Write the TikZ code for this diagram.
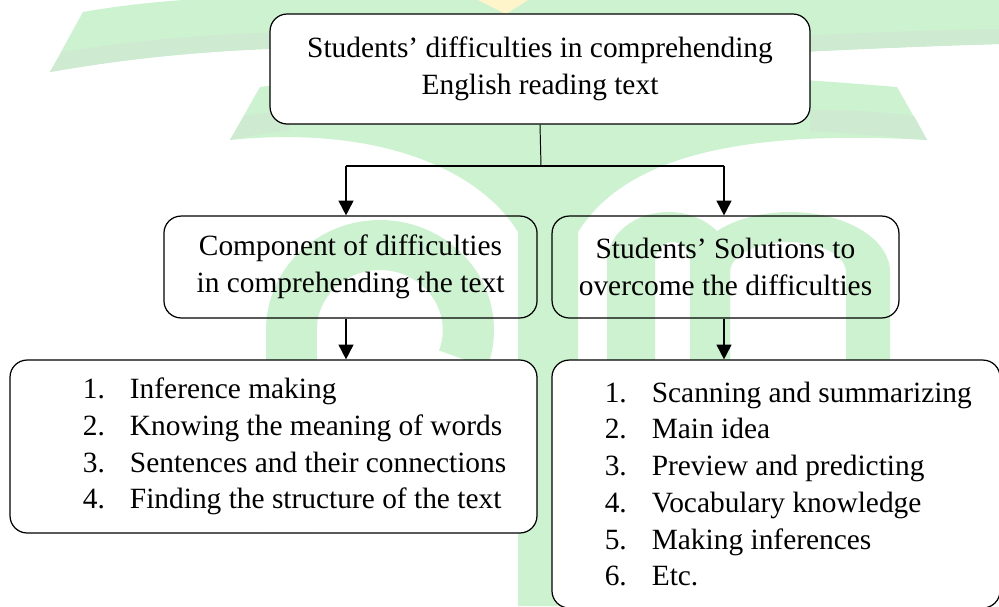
\documentclass[tikz,border=0pt]{standalone}
\usepackage{fontspec}
\setmainfont{Liberation Serif}
\usetikzlibrary{arrows.meta}
\definecolor{wmgreen}{RGB}{205,242,208}
\definecolor{wmshade}{RGB}{206,234,208}
\definecolor{wmyellow}{RGB}{255,245,202}
\tikzset{
	box/.style={draw=black, line width=0.5pt, rounded corners=7pt, align=center, inner sep=0pt, font=\fontsize{12}{15}\selectfont},
	listtext/.style={anchor=west, align=left, inner sep=0pt, font=\fontsize{12}{15}\selectfont},
	thinline/.style={line width=0.4pt},
	forkline/.style={line width=0.7pt},
	arrowline/.style={line width=0.7pt, -{Triangle[width=6pt,length=6pt]}},
}
\newcommand{\itm}[1]{\makebox[19.2pt][l]{#1}}

\begin{document}
\begin{tikzpicture}[x=0.4082pt, y=-0.4082pt]
			%%%%% START %%%%%
			\useasboundingbox (0,0) rectangle (999,606);
			\clip (0,0) rectangle (999,606);
			
			% watermark
			\fill[wmgreen] (50,72) -- (83,12) .. controls (150,0) and (230,-4) .. (300,-4) -- (1000,-4) -- (1000,44) .. controls (930,46) and (860,49) .. (800,52) -- (300,48) .. controls (210,50) and (130,58) .. (50,72) -- cycle;
			\fill[wmshade] (62,52) .. controls (150,38) and (230,33) .. (300,32) -- (300,48) .. controls (210,50) and (130,58) .. (50,72) -- cycle;
			\fill[wmshade] (800,36) .. controls (860,33) and (930,30) .. (1000,29) -- (1000,44) .. controls (930,46) and (860,49) .. (800,52) -- cycle;
			\fill[wmyellow] (478,0) -- (528,0) -- (506,14) -- cycle;
			
			\fill[wmgreen] (260,87) -- (230,140) .. controls (380,125) and (480,170) .. (518,232) -- (518,606) -- (578,606) -- (578,232) .. controls (620,165) and (720,128) .. (927,140) -- (897,87) .. controls (750,75) and (640,70) .. (540,70) .. controls (440,70) and (350,75) .. (260,87) -- cycle;
			\fill[wmshade] (244,116) .. controls (260,113) and (275,112) .. (290,112) -- (290,130) .. controls (270,132) and (250,136) .. (230,140) -- cycle;
			\fill[wmshade] (810,110) .. controls (850,110) and (890,112) .. (914,116) -- (927,140) .. controls (880,136) and (840,132) .. (810,131) -- cycle;
			
			\fill[wmgreen] (266,533) -- (266,330) arc[start angle=180, end angle=380, x radius=114, y radius=110] -- (439,350.5) arc[start angle=380, end angle=180, x radius=63, y radius=60] -- (317,533) -- cycle;
			\fill[wmgreen] (607,360) -- (607,262) arc[start angle=180, end angle=360, x radius=61.5, y radius=50] -- (730,360) -- (690,360) -- (690,262) arc[start angle=360, end angle=180, x radius=17.5, y radius=20] -- (655,360) -- cycle;
			\fill[wmgreen] (690,360) -- (690,272) arc[start angle=180, end angle=360, x radius=100, y radius=60] -- (890,360) -- (846,360) -- (846,272) arc[start angle=360, end angle=180, x radius=58, y radius=30] -- (730,360) -- cycle;
			
			% boxes
			\node[box, fill=white, minimum width=220.4pt, minimum height=44.9pt] (top) at (540,69) {Students’ difficulties in comprehending\\English reading text};
			
			\node[box, minimum width=152.3pt, minimum height=41.6pt] (compBox) at (350.5,267) {Component of difficulties\\in comprehending the text};
			\node[box, minimum width=141.6pt, minimum height=41.6pt] (solBox) at (725.5,267) {Students’ Solutions to\\overcome the difficulties};
			
			\node[box, fill=white, minimum width=215.1pt, minimum height=70.6pt] (compList) at (273.5,446.5) {};
			\node[listtext] (compItems) at ([xshift=29.8pt]compList.west) {\itm{1.}Inference making\\\itm{2.}Knowing the meaning of words\\\itm{3.}Sentences and their connections\\\itm{4.}Finding the structure of the text};
			
			\node[box, fill=white, minimum width=182.9pt, minimum height=101.2pt] (solList) at (776,484) {};
			\node[listtext] (solItems) at ([xshift=21.6pt]solList.west) {\itm{1.}Scanning and summarizing\\\itm{2.}Main idea\\\itm{3.}Preview and predicting\\\itm{4.}Vocabulary knowledge\\\itm{5.}Making inferences\\\itm{6.}Etc.};
			
			% connectors
			\coordinate (split) at (541,166);
			\coordinate (splitL) at (346,166);
			\coordinate (splitR) at (724,166);
			\draw[thinline] (top.south) -- (split);
			\draw[forkline] (splitL) -- (splitR);
			\draw[arrowline] (splitL) -- (splitL |- compBox.north);
			\draw[arrowline] (splitR) -- (splitR |- solBox.north);
			\draw[arrowline] (splitL |- compBox.south) -- (splitL |- compList.north);
			\draw[arrowline] (splitR |- solBox.south) -- (splitR |- solList.north);
			
			%%%%% END %%%%%
\end{tikzpicture}
\end{document}
